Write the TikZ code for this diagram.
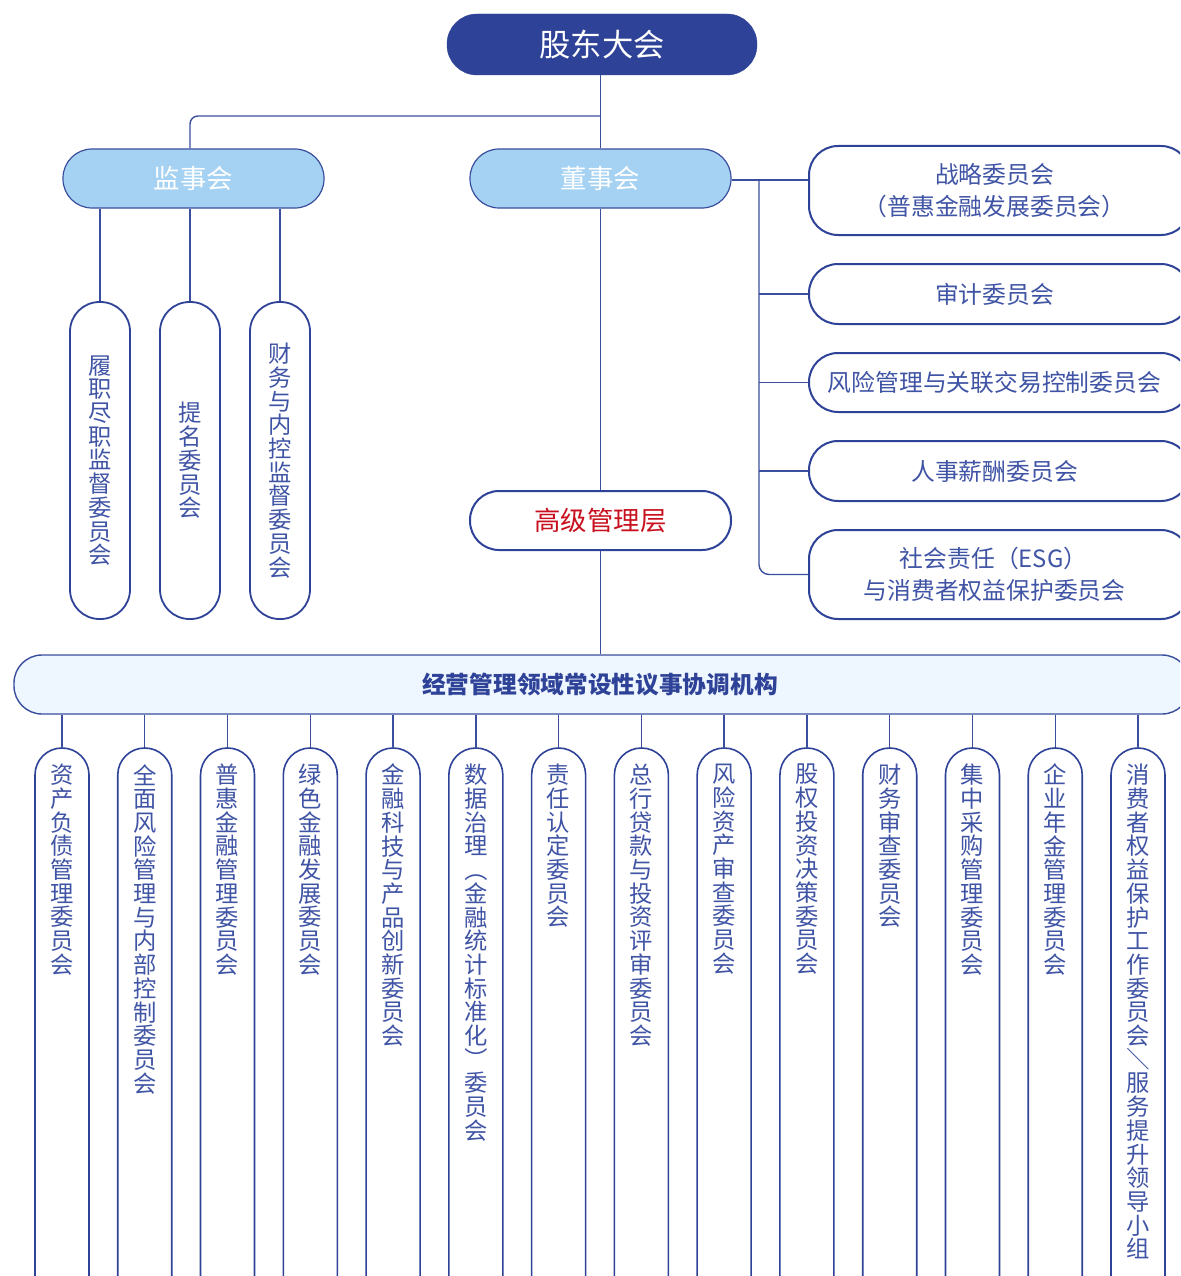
\documentclass[tikz,border=0pt]{standalone}
\usepackage{fontspec}
\newfontfamily\cjk{Noto Sans CJK SC}
\definecolor{navy}{HTML}{2E4297}
\definecolor{lblue}{HTML}{A5D2F2}
\definecolor{barfill}{HTML}{EEF6FF}
\definecolor{txtblue}{HTML}{4054A5}
\definecolor{redtxt}{HTML}{C8101E}
\definecolor{linec}{HTML}{3A4E9E}
\makeatletter
\newcommand\vtxt[1]{\@tfor\vt@c:=#1\do{\vt@c\par}}
\makeatother
\newcommand\rchar[1]{\rotatebox[origin=c]{-90}{#1}}
\begin{document}
\begin{tikzpicture}[x=1pt,y=-1pt,
  conn/.style={draw=linec,line width=1.4},
  topbox/.style={fill=navy,draw=navy,rounded corners=30,inner sep=0,text=white,
    minimum width=310,minimum height=61,font=\cjk\fontsize{31.3}{36}\selectfont},
  midbox/.style={fill=lblue,draw=linec,line width=1.2,rounded corners=29,inner sep=0,text=white,
    minimum width=261,minimum height=59,font=\cjk\fontsize{26.4}{30}\selectfont},
  wbox/.style={fill=white,draw=navy,line width=2,rounded corners=29,inner sep=0,text=txtblue,
    align=center,font=\cjk\fontsize{23.8}{32}\selectfont},
  combox/.style={wbox,minimum width=381},
  vbox/.style={fill=white,draw=navy,line width=1.8,rounded corners=29.5,inner sep=0,text=txtblue,
    minimum width=60,minimum height=317,text width=30,align=center,
    font=\cjk\fontsize{23.3}{23.7}\selectfont},
  bbox/.style={fill=white,draw=navy,line width=1.6,rounded corners=26.9,inner sep=0,
    minimum width=54,minimum height=560},
  btxt/.style={inner sep=0,text=txtblue,text width=30,align=center,anchor=north,
    font=\cjk\fontsize{23.3}{23.7}\selectfont}
]
\useasboundingbox (0,0) rectangle (1180,1276);
\clip (0,0) rectangle (1180,1276);

% top
\node[topbox] (gd) at (602,44.5) {股东大会};
\node[midbox] (js) at (193.5,178.5) {监事会};
\node[midbox] (ds) at (600.5,178.5) {董事会};
\node[wbox,minimum width=261,minimum height=59,text=redtxt,font=\cjk\fontsize{26.4}{30}\selectfont] (gj) at (600.5,520.5) {高级管理层};

% supervisory committees
\node[vbox] (v1) at (100,460.5) {\vtxt{履职尽职监督委员会}};
\node[vbox] (v2) at (190,460.5) {\vtxt{提名委员会}};
\node[vbox] (v3) at (280,460.5) {\vtxt{财务与内控监督委员会}};

% board committees
\node[combox,minimum height=89] (zl) at (999.5,190.5) {\hspace*{-10pt}战略委员会\\\hspace*{-10pt}（普惠金融发展委员会）};
\node[combox,minimum height=60] (sj) at (999.5,294) {\hspace*{-10pt}审计委员会};
\node[combox,minimum height=59] (fx) at (999.5,382.5) {\hspace*{-10pt}风险管理与关联交易控制委员会};
\node[combox,minimum height=60] (rs) at (999.5,471) {\hspace*{-10pt}人事薪酬委员会};
\node[combox,minimum height=89] (esg) at (999.5,574.5) {\hspace*{-12pt}社会责任（ESG）\\\hspace*{-10pt}与消费者权益保护委员会};

% bar
\node[fill=barfill,draw=linec,line width=1.4,rounded corners=28,inner sep=0,
  minimum width=1176,minimum height=59,text=navy,font=\cjk\bfseries\fontsize{23.7}{27}\selectfont]
  (bar) at (602,684.5) {\hspace*{-4pt}经营管理领域常设性议事协调机构};

% connectors (top part)
\draw[conn] (gd.south -| ds.north) -- (ds.north);
\draw[conn] (ds.south) -- (gj.north);
\draw[conn] (gj.south) -- (bar.north -| gj.south);
\draw[conn,rounded corners=8] (600.5,116) -| (v2 |- js.north);
\foreach \n in {v1,v2,v3}{
  \draw[conn] (\n |- js.south) -- (\n.north);
}
\coordinate (rt) at (759,180);
\draw[conn] (ds.east |- rt) -- (zl.west |- rt);
\draw[conn,rounded corners=10] (rt) |- (esg.west);
\foreach \n in {sj,fx,rs}{
  \draw[conn] (rt |- \n.west) -- (\n.west);
}

% bottom committees
\foreach \i/\t in {
  0/{资产负债管理委员会},
  1/{全面风险管理与内部控制委员会},
  2/{普惠金融管理委员会},
  3/{绿色金融发展委员会},
  4/{金融科技与产品创新委员会},
  5/{数据治理{\rchar{（}}金融统计标准化{\rchar{）}}委员会},
  6/{责任认定委员会},
  7/{总行贷款与投资评审委员会},
  8/{风险资产审查委员会},
  9/{股权投资决策委员会},
  10/{财务审查委员会},
  11/{集中采购管理委员会},
  12/{企业年金管理委员会},
  13/{消费者权益保护工作委员会{\rchar{／}}服务提升领导小组}}{
  \node[bbox] (b\i) at ({62+82.77*\i},1028) {};
  \node[btxt] (t\i) at ({62+82.77*\i},764) {\expandafter\vtxt\expandafter{\t}};
  \draw[conn] (bar.south -| b\i) -- (b\i.north);
}
\end{tikzpicture}
\end{document}
